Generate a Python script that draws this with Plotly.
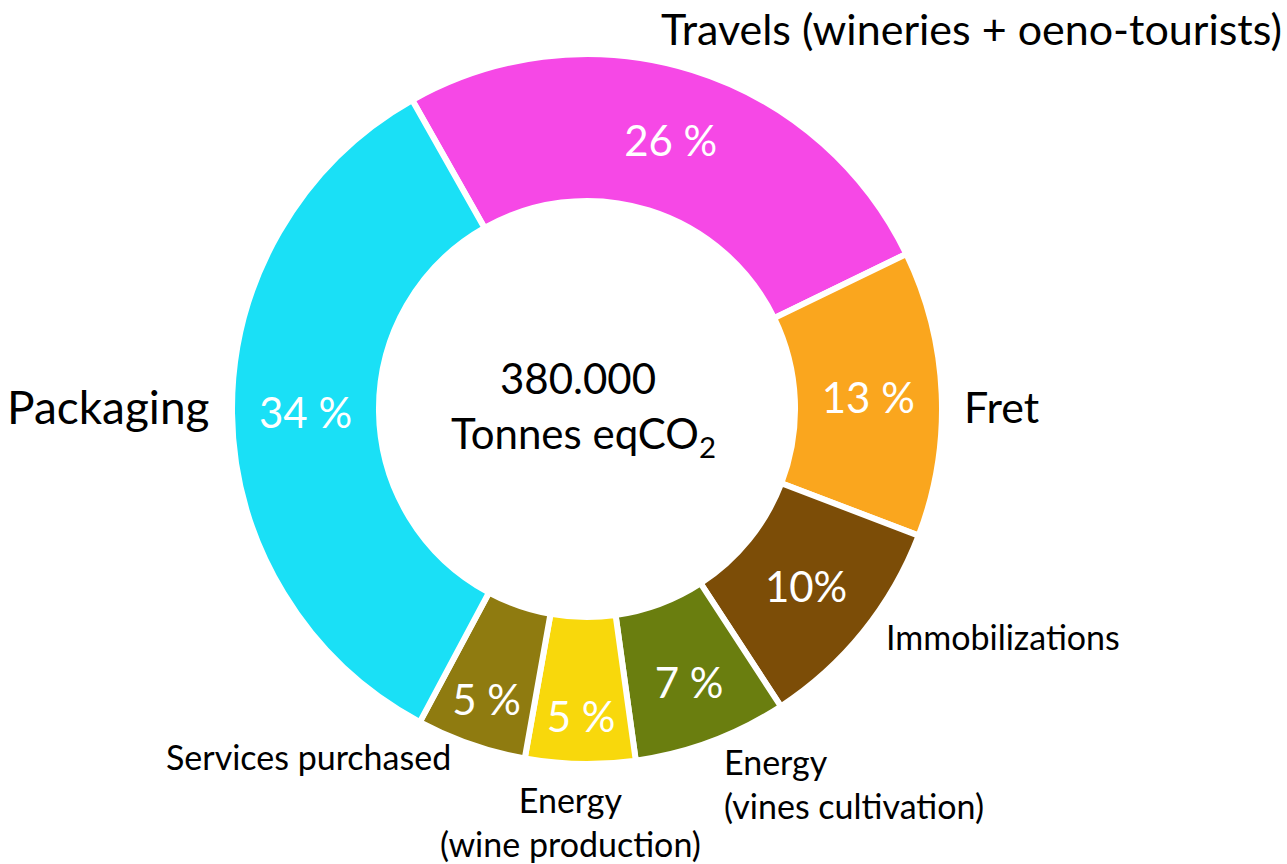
import plotly.graph_objects as go

categories = ["Travels (wineries + oeno-tourists)", "Fret", "Immobilizations",
              "Energy (vines cultivation)", "Energy (wine production)",
              "Services purchased", "Packaging"]
values = [26, 13, 10, 7, 5, 5, 34]
pct_labels = ["26 %", "13 %", "10%", "7 %", "5 %", "5 %", "34 %"]
colors = ["#F648E6", "#FAA61E", "#7C4D07", "#6A7E0F", "#F8D80C", "#8F7B10", "#1AE0F6"]

W, H = 1287, 864
FONT = "Lato"

fig = go.Figure(go.Pie(
    labels=categories,
    values=values,
    text=pct_labels,
    textinfo="text",
    textposition="inside",
    insidetextorientation="horizontal",
    textfont=dict(family=FONT, size=42, color="white"),
    sort=False,
    direction="clockwise",
    rotation=-29.5,
    hole=0.586,
    marker=dict(colors=colors, line=dict(color="white", width=6)),
    domain=dict(x=[232 / W, 942 / W], y=[1 - 764 / H, 1 - 54 / H]),
    showlegend=False,
    hoverinfo="label+value",
))

def px(x):
    return x / W

def py(y):
    return 1 - y / H

annots = [
    dict(text="380.000", x=px(578), y=py(378), size=42, xanchor="center"),
    dict(text="Tonnes eqCO<sub>2</sub>", x=px(583), y=py(436), size=42, xanchor="center"),
    dict(text="Travels (wineries + oeno-tourists)", x=px(1284), y=py(28), size=43, xanchor="right"),
    dict(text="Packaging", x=px(5), y=py(406), size=46, xanchor="left"),
    dict(text="Fret", x=px(962), y=py(406), size=43, xanchor="left"),
    dict(text="Immobilizations", x=px(884), y=py(636), size=34, xanchor="left"),
    dict(text="Services purchased", x=px(164), y=py(756), size=34, xanchor="left"),
    dict(text="Energy<br>(vines cultivation)", x=px(722), y=py(783), size=34, xanchor="left", align="left"),
    dict(text="Energy<br>(wine production)", x=px(570), y=py(821), size=34, xanchor="center", align="center"),
]

for a in annots:
    fig.add_annotation(
        text=a["text"], x=a["x"], y=a["y"], xref="paper", yref="paper",
        xanchor=a["xanchor"], yanchor="middle", showarrow=False,
        align=a.get("align", "center"),
        font=dict(family=FONT, size=a["size"], color="black"),
    )

fig.update_layout(
    width=W, height=H,
    margin=dict(l=0, r=0, t=0, b=0),
    paper_bgcolor="white",
    plot_bgcolor="white",
)

fig.write_html("out.html")
